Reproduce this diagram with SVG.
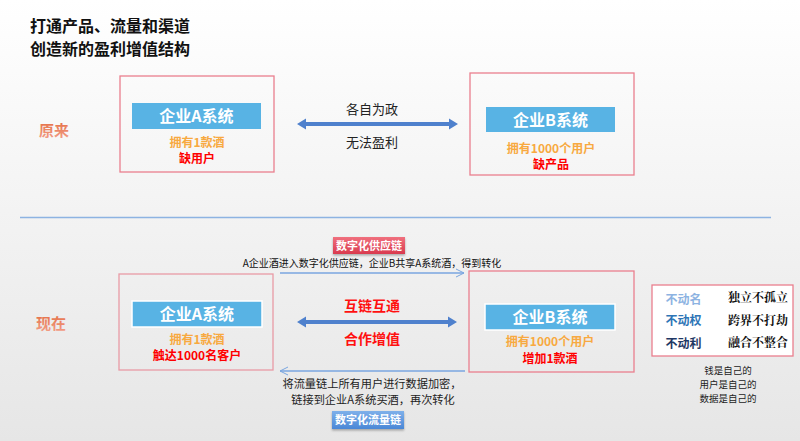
<svg xmlns="http://www.w3.org/2000/svg" width="800" height="441" viewBox="0 0 800 441">
<defs>
<linearGradient id="bg" x1="0" y1="0" x2="0" y2="1">
<stop offset="0" stop-color="#ffffff"/>
<stop offset="1" stop-color="#e6e6e6"/>
</linearGradient>
<linearGradient id="redbtn" x1="0" y1="0" x2="0" y2="1">
<stop offset="0" stop-color="#f0707e"/>
<stop offset="1" stop-color="#d93a4e"/>
</linearGradient>
<linearGradient id="bluebtn" x1="0" y1="0" x2="0" y2="1">
<stop offset="0" stop-color="#7eb0ea"/>
<stop offset="1" stop-color="#4a87d6"/>
</linearGradient>
<linearGradient id="lbl" x1="0" y1="0" x2="0" y2="1">
<stop offset="0" stop-color="#e36a3e"/>
<stop offset="1" stop-color="#f3a08a"/>
</linearGradient>
<marker id="thin" viewBox="0 0 10 10" refX="9" refY="5" markerWidth="10" markerHeight="10" markerUnits="userSpaceOnUse" orient="auto">
<path d="M1,1 L9,5 L1,9" fill="none" stroke="#7aa6e0" stroke-width="1"/>
</marker>
<filter id="sh" x="-20%" y="-30%" width="140%" height="170%">
<feDropShadow dx="0" dy="1.5" stdDeviation="1" flood-color="#000" flood-opacity="0.3"/>
</filter>
</defs>
<style>
text{font-family:"Noto Sans CJK SC","Liberation Sans",sans-serif;}
.title{font-size:16px;font-weight:bold;fill:#111;}
.box{fill:none;stroke:#ea7f8e;stroke-width:1.3;}
.boxb{fill:none;stroke:#e99aa5;stroke-width:1.3;}
.lab{fill:#58b3e4;}
.labw{fill:#58b3e4;stroke:#fff;stroke-width:1.5;}
.labt{font-size:16px;font-weight:bold;fill:#fff;text-anchor:middle;}
.or{font-size:12px;font-weight:bold;fill:#f8a940;text-anchor:middle;}
.rd{font-size:12px;font-weight:bold;fill:#ff0000;text-anchor:middle;}
.mid{font-size:13px;fill:#222;text-anchor:middle;}
.mid2{font-size:11.2px;fill:#222;text-anchor:middle;}
.midr{font-size:14px;font-weight:bold;fill:#ff1010;text-anchor:middle;}
.sec{font-size:15px;font-weight:bold;fill:url(#lbl);}
.sm{font-size:10px;fill:#111;text-anchor:middle;}
.btn{font-size:11px;font-weight:bold;fill:#fff;text-anchor:middle;}
.big{fill:#4f81cd;}
.thin{stroke:#7aa6e0;stroke-width:1.5;fill:none;}
.rt{font-size:12px;font-weight:bold;text-anchor:middle;}
.rs{font-size:12px;font-weight:bold;fill:#111;text-anchor:middle;font-family:"Noto Serif CJK SC","Liberation Serif","Noto Sans CJK SC",serif;}
.note{font-size:9.5px;fill:#222;text-anchor:middle;}
</style>
<rect x="0" y="0" width="800" height="441" fill="url(#bg)"/>

<g id="title">
<text class="title" x="30" y="32">打通产品、流量和渠道</text>
<text class="title" x="30" y="55">创造新的盈利增值结构</text>
</g>

<g id="label-before"><text class="sec" x="39" y="136">原来</text></g>
<g id="label-now"><text class="sec" x="36" y="329">现在</text></g>

<g id="divider"><line x1="20" y1="217.5" x2="771" y2="217.5" stroke="#8db3e2" stroke-width="1.5"/></g>

<g id="before-a">
<rect class="box" x="120" y="76" width="154" height="96"/>
<rect class="lab" x="132" y="103" width="129" height="26"/>
<text class="labt" x="196.5" y="122">企业A系统</text>
<text class="or" x="197" y="147">拥有1款酒</text>
<text class="rd" x="197" y="162.5">缺用户</text>
</g>

<g id="before-b">
<rect class="box" x="470" y="73" width="164" height="102"/>
<rect class="lab" x="486" y="107" width="129" height="25"/>
<text class="labt" x="550.5" y="125.5">企业B系统</text>
<text class="or" x="551" y="152.5">拥有1000个用户</text>
<text class="rd" x="551" y="169">缺产品</text>
</g>

<g id="now-a">
<rect class="boxb" x="119" y="274" width="154" height="96"/>
<rect class="labw" x="132" y="301" width="130" height="26"/>
<text class="labt" x="197" y="320">企业A系统</text>
<text class="or" x="197" y="343.5">拥有1款酒</text>
<text class="rd" x="197" y="359.5">触达1000名客户</text>
</g>

<g id="now-b">
<rect class="box" x="469" y="271" width="165" height="101"/>
<rect class="labw" x="485" y="304" width="130" height="26"/>
<text class="labt" x="550" y="323">企业B系统</text>
<text class="or" x="550" y="346">拥有1000个用户</text>
<text class="rd" x="550" y="362.5">增加1款酒</text>
</g>

<g id="principles">
<rect x="652" y="285" width="141" height="71" fill="#fff" stroke="#ea7f8e" stroke-width="1.3"/>
<text class="rt" x="683.5" y="304" fill="#8db3e2">不动名</text>
<text class="rs" x="758" y="302">独立不孤立</text>
<text class="rt" x="683.5" y="325" fill="#2e75b6">不动权</text>
<text class="rs" x="758" y="325">跨界不打劫</text>
<text class="rt" x="683.5" y="348" fill="#1f3864">不动利</text>
<text class="rs" x="758" y="347">融合不整合</text>
</g>

<g id="notes">
<text class="note" x="728" y="374">钱是自己的</text>
<text class="note" x="728" y="388">用户是自己的</text>
<text class="note" x="728" y="402">数据是自己的</text>
</g>

<g id="supply-chain-btn">
<rect x="333" y="237" width="72" height="17" fill="url(#redbtn)" filter="url(#sh)"/>
<text class="btn" x="369" y="249.5">数字化供应链</text>
</g>
<g id="traffic-chain-btn">
<rect x="332" y="411" width="72" height="18" fill="url(#bluebtn)" filter="url(#sh)"/>
<text class="btn" x="368" y="424">数字化流量链</text>
</g>

<g id="connectors">
<polygon class="big" points="297,124 306,118.5 306,122 449,122 449,118.5 458,124 449,129.5 449,126 306,126 306,129.5"/>
<polygon class="big" points="297,322 306,316.5 306,320 448,320 448,316.5 457,322 448,327.5 448,324 306,324 306,327.5"/>
<line class="thin" x1="280" y1="273" x2="464" y2="273" marker-end="url(#thin)"/>
<line class="thin" x1="465" y1="371" x2="280" y2="371" marker-end="url(#thin)"/>
</g>

<g id="connector-labels">
<text class="mid" x="372" y="114">各自为政</text>
<text class="mid" x="372" y="147">无法盈利</text>
<text class="midr" x="372" y="311">互链互通</text>
<text class="midr" x="372" y="344">合作增值</text>
<text class="sm" x="372" y="266.5">A企业酒进入数字化供应链，企业B共享A系统酒，得到转化</text>
<text class="mid2" x="372" y="388">将流量链上所有用户进行数据加密，</text>
<text class="mid2" x="373" y="404">链接到企业A系统买酒，再次转化</text>
</g>
</svg>
